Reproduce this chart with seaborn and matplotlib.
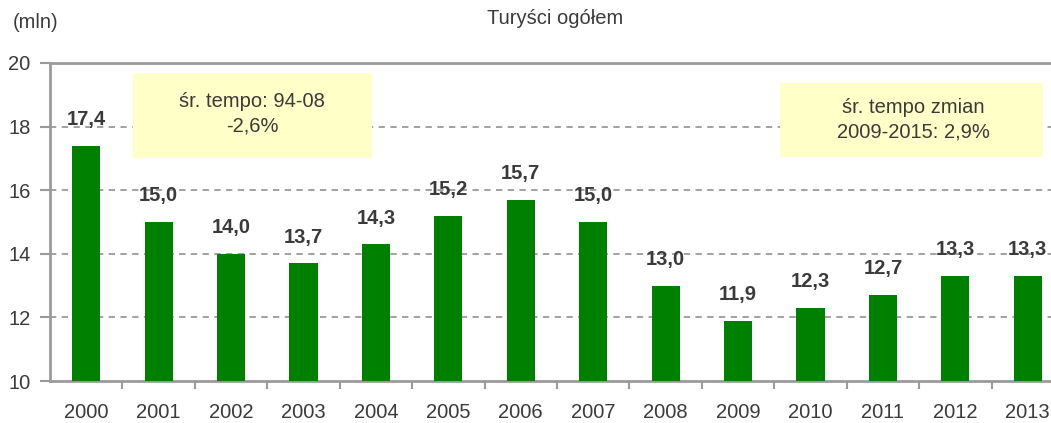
import matplotlib
matplotlib.use("Agg")
import matplotlib.pyplot as plt
import seaborn as sns
from matplotlib.patches import Rectangle

years = ["2000", "2001", "2002", "2003", "2004", "2005", "2006",
         "2007", "2008", "2009", "2010", "2011", "2012", "2013"]
values = [17.4, 15.0, 14.0, 13.7, 14.3, 15.2, 15.7, 15.0, 13.0, 11.9, 12.3, 12.7, 13.3, 13.3]
yticks = [10, 12, 14, 16, 18, 20]
title = "Turyści ogółem"
unit = "(mln)"
note1 = "śr. tempo: 94-08\n-2,6%"
note2 = "śr. tempo zmian\n2009-2015: 2,9%"

sns.set_theme(style="white")
plt.rcParams["font.family"] = ["Liberation Sans", "DejaVu Sans"]

W, H = 1051, 423
fig = plt.figure(figsize=(W / 100, H / 100), dpi=100)
# axes extends beyond right edge (reference is cropped)
ax = fig.add_axes([50 / W, 42 / H, 1014 / W, 318 / H])

txt = "#3a3a3a"
grid = "#9a9a9a"

sns.barplot(x=years, y=values, color="#008000", width=0.39, ax=ax,
            saturation=1, edgecolor="#008000", linewidth=0, zorder=3)
ax.set_xlim(-0.5, 13.5)
ax.set_ylim(10, 20)
ax.set_yticks(yticks)
ax.set_yticklabels([str(t) for t in yticks], fontsize=14.5, color=txt)
ax.tick_params(axis="y", length=7, width=1.5, color=grid, pad=7, left=True)
ax.set_xticks(range(len(years)))
ax.set_xticklabels(years, fontsize=14.5, color=txt)
ax.tick_params(axis="x", which="major", length=0, pad=16)
ax.set_xticks([i + 0.5 for i in range(len(years))], minor=True)
ax.tick_params(axis="x", which="minor", length=6, width=1.5, color=grid, bottom=True)
ax.set_xlabel("")
ax.set_ylabel("")

for y in yticks[1:-1]:
    ax.axhline(y, color=grid, linestyle=(0, (3.5, 3)), linewidth=1.3, zorder=1)

for s in ["left", "bottom", "top"]:
    ax.spines[s].set_visible(True)
    ax.spines[s].set_color(grid)
    ax.spines[s].set_linewidth(2)
ax.spines["right"].set_visible(False)

for i, v in enumerate(values):
    ax.annotate(f"{v:.1f}".replace(".", ","), (i, v), xytext=(0, 12),
                textcoords="offset points", ha="center", va="bottom",
                fontsize=14.5, fontweight="bold", color=txt, zorder=5)

fig.text(555 / W, 1 - 18 / H, title, ha="center", va="center", fontsize=14.5, color=txt)
fig.text(36 / W, 1 - 22 / H, unit, ha="center", va="center", fontsize=14.5, color=txt)

box_color = "#FFFFC8"
fig.patches.append(Rectangle((133 / W, 1 - 158 / H), 239 / W, 85 / H,
                             transform=fig.transFigure, facecolor=box_color,
                             edgecolor="none", zorder=10))
fig.text(252 / W, 1 - 114 / H, note1, ha="center", va="center", fontsize=14.5,
         color=txt, linespacing=1.4, zorder=11)
fig.patches.append(Rectangle((780 / W, 1 - 157 / H), 263 / W, 74 / H,
                             transform=fig.transFigure, facecolor=box_color,
                             edgecolor="none", zorder=10))
fig.text(913 / W, 1 - 120 / H, note2, ha="center", va="center", fontsize=14.5,
         color=txt, linespacing=1.4, zorder=11)

fig.savefig("out.png", dpi=100)
